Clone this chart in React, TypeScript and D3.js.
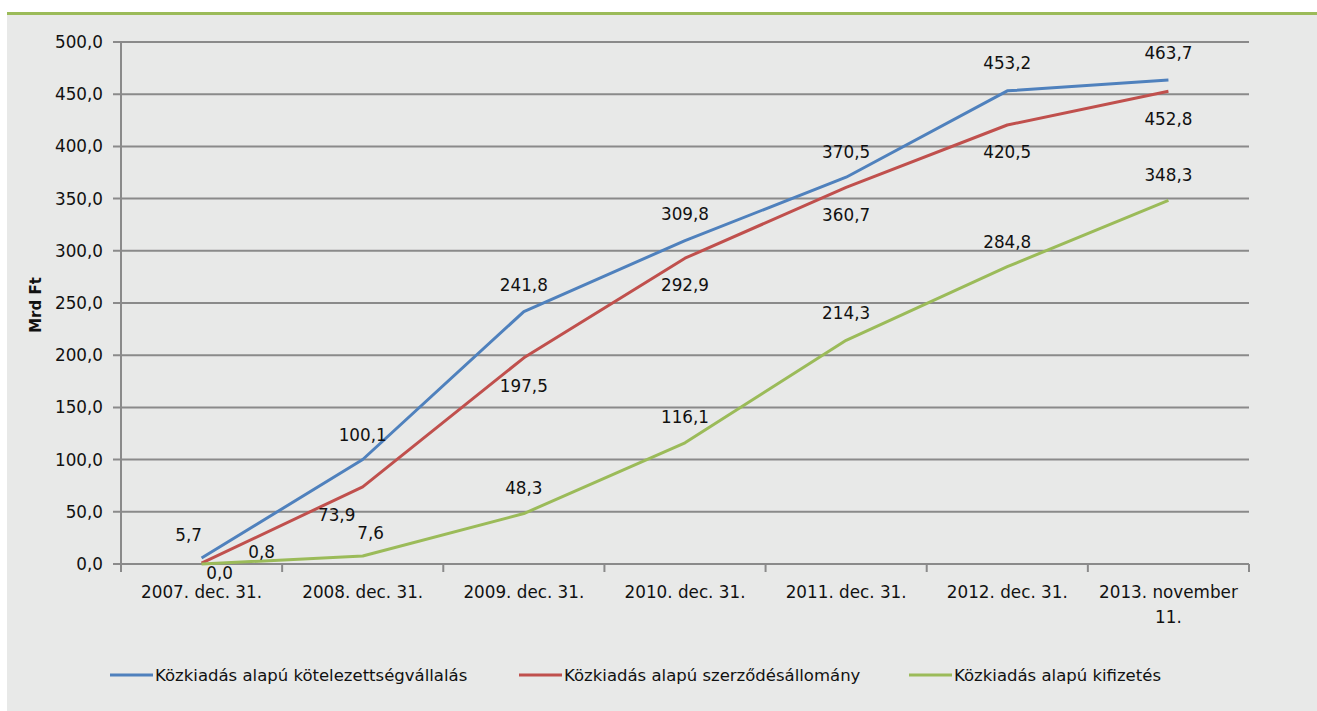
import React, { useEffect, useRef } from "react";
import * as d3 from "d3";

const categories = [
  "2007. dec. 31.",
  "2008. dec. 31.",
  "2009. dec. 31.",
  "2010. dec. 31.",
  "2011. dec. 31.",
  "2012. dec. 31.",
  "2013. november 11.",
];

const kotelezettseg = [5.7, 100.1, 241.8, 309.8, 370.5, 453.2, 463.7];
const szerzodes = [0.8, 73.9, 197.5, 292.9, 360.7, 420.5, 452.8];
const kifizetes = [0.0, 7.6, 48.3, 116.1, 214.3, 284.8, 348.3];

const seriesNames = [
  "Közkiadás alapú kötelezettségvállalás",
  "Közkiadás alapú szerződésállomány",
  "Közkiadás alapú kifizetés",
];

const yTicks = [0, 50, 100, 150, 200, 250, 300, 350, 400, 450, 500];

// label offsets from the point (dx, dy)
const blueOffsets = [[-13, -23], [0, -25], [0, -27], [0, -27], [0, -25], [0, -28], [0, -27]];
const redOffsets = [[60, -11], [-26, 28], [0, 28], [0, 27], [0, 28], [0, 27], [0, 28]];
const greenOffsets = [[18, 9], [8, -23], [0, -26], [0, -26], [0, -27], [0, -25], [0, -25]];

const W = 1317;
const H = 711;
const FONT = "DejaVu Sans, sans-serif";

const App = () => {
  const ref = useRef<SVGSVGElement>(null);

  useEffect(() => {
    const svg = d3.select(ref.current);
    svg.selectAll("*").remove();

    const left = 121, right = 1249, top = 42, bottom = 564;

    // background + top rule
    svg.append("rect").attr("x", 0).attr("y", 0).attr("width", W).attr("height", H).attr("fill", "#ffffff");
    svg.append("rect").attr("x", 7).attr("y", 15).attr("width", W - 7).attr("height", H - 15).attr("fill", "#e8e9e8");
    svg.append("rect").attr("x", 7).attr("y", 12).attr("width", W - 7).attr("height", 3).attr("fill", "#9bbb59");

    const x = d3.scaleBand().domain(categories).range([left, right]).padding(0);
    const cx = (c: string) => (x(c) as number) + x.bandwidth() / 2;
    const y = d3.scaleLinear().domain([0, 500]).range([bottom, top]);
    const fmt = (v: number) => d3.format(".1f")(v).replace(".", ",");

    // gridlines
    svg.append("g")
      .selectAll("line")
      .data(yTicks)
      .enter().append("line")
      .attr("x1", left - 8)
      .attr("x2", right)
      .attr("y1", d => y(d))
      .attr("y2", d => y(d))
      .attr("stroke", "#8a8a8a")
      .attr("stroke-width", 2);

    // y axis line
    svg.append("line")
      .attr("x1", left).attr("x2", left)
      .attr("y1", top).attr("y2", bottom)
      .attr("stroke", "#8a8a8a").attr("stroke-width", 2);

    // x ticks
    const bounds = categories.map(c => x(c) as number).concat([right]);
    svg.append("g")
      .selectAll("line")
      .data(bounds)
      .enter().append("line")
      .attr("x1", d => d).attr("x2", d => d)
      .attr("y1", bottom).attr("y2", bottom + 8)
      .attr("stroke", "#8a8a8a").attr("stroke-width", 2);

    // y tick labels
    svg.append("g")
      .selectAll("text")
      .data(yTicks)
      .enter().append("text")
      .attr("x", left - 18)
      .attr("y", d => y(d))
      .attr("dy", "0.36em")
      .attr("text-anchor", "end")
      .attr("font-family", FONT)
      .attr("font-size", 16.8)
      .attr("fill", "#111")
      .text(d => fmt(d));

    // x labels
    const xl = svg.append("g");
    categories.forEach(c => {
      const t = xl.append("text")
        .attr("x", cx(c))
        .attr("y", 592)
        .attr("dy", "0.36em")
        .attr("text-anchor", "middle")
        .attr("font-family", FONT)
        .attr("font-size", 16.8)
        .attr("fill", "#111");
      if (c === "2013. november 11.") {
        t.append("tspan").attr("x", cx(c)).text("2013. november");
        t.append("tspan").attr("x", cx(c)).attr("dy", 25).text("11.");
      } else {
        t.text(c);
      }
    });

    // y title
    svg.append("text")
      .attr("transform", `translate(41,305) rotate(-90)`)
      .attr("text-anchor", "middle")
      .attr("font-family", FONT)
      .attr("font-size", 15)
      .attr("font-weight", "bold")
      .attr("fill", "#111")
      .text("Mrd Ft");

    const series = [
      { values: kotelezettseg, color: "#4f81bd", offsets: blueOffsets },
      { values: szerzodes, color: "#c0504d", offsets: redOffsets },
      { values: kifizetes, color: "#9bbb59", offsets: greenOffsets },
    ];

    const line = d3.line<number>()
      .x((_, i) => cx(categories[i]))
      .y(d => y(d));

    series.forEach(s => {
      svg.append("path")
        .datum(s.values)
        .attr("d", line)
        .attr("fill", "none")
        .attr("stroke", s.color)
        .attr("stroke-width", 3)
        .attr("stroke-linejoin", "round");
    });

    series.forEach(s => {
      svg.append("g")
        .selectAll("text")
        .data(s.values)
        .enter().append("text")
        .attr("x", (d, i) => cx(categories[i]) + s.offsets[i][0])
        .attr("y", (d, i) => y(d) + s.offsets[i][1])
        .attr("dy", "0.36em")
        .attr("text-anchor", "middle")
        .attr("font-family", FONT)
        .attr("font-size", 16.8)
        .attr("fill", "#111")
        .text(d => fmt(d));
    });

    // legend
    const legendX = [110, 519, 909];
    const lg = svg.append("g");
    series.forEach((s, i) => {
      lg.append("line")
        .attr("x1", legendX[i]).attr("x2", legendX[i] + 43)
        .attr("y1", 675).attr("y2", 675)
        .attr("stroke", s.color).attr("stroke-width", 3);
      lg.append("text")
        .attr("x", legendX[i] + 45)
        .attr("y", 675)
        .attr("dy", "0.36em")
        .attr("font-family", FONT)
        .attr("font-size", 16.5)
        .attr("fill", "#111")
        .text(seriesNames[i]);
    });
  }, []);

  return (
    <svg
      ref={ref}
      width={W}
      height={H}
      style={{ position: "absolute", left: 0, top: 0 }}
    ></svg>
  );
};

export default App;
